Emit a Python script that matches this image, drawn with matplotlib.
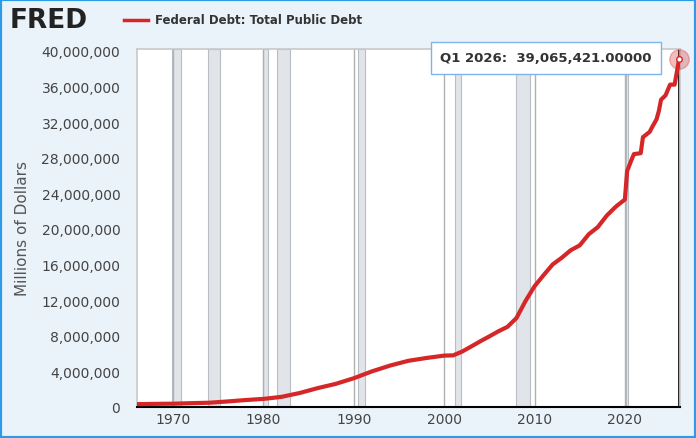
import matplotlib.pyplot as plt
import matplotlib.patches as mpatches

years = [1966, 1968, 1970, 1972, 1974, 1976, 1978, 1980, 1982, 1984, 1986, 1988,
         1990, 1992, 1994, 1996, 1998, 2000, 2001, 2002, 2003, 2004, 2005, 2006,
         2007, 2008, 2009, 2010, 2011, 2012, 2013, 2014, 2015, 2016, 2017, 2018,
         2019, 2020, 2020.25, 2020.75, 2021, 2021.75, 2022, 2022.75, 2023, 2023.5,
         2023.75, 2024, 2024.5, 2025, 2025.5, 2025.75, 2026]
debt = [320e3, 350e3, 370e3, 430e3, 480e3, 620e3, 780e3, 910e3, 1140e3, 1570e3, 2120e3, 2600e3,
        3230e3, 4000e3, 4650e3, 5180e3, 5500e3, 5770e3, 5800e3, 6230e3, 6800e3, 7380e3, 7930e3, 8500e3,
        9000e3, 9990e3, 11900e3, 13560e3, 14800e3, 16000e3, 16750e3, 17600e3, 18150e3, 19400e3, 20200e3, 21500e3,
        22500e3, 23300e3, 26500e3, 27800e3, 28400e3, 28500e3, 30300e3, 30900e3, 31400e3, 32300e3,
        33200e3, 34500e3, 35000e3, 36200e3, 36200e3, 37600e3, 39065421]
rec_start = [1969.9, 1973.9, 1980.0, 1981.5, 1990.5, 2001.2, 2007.9, 2020.1]
rec_end = [1970.9, 1975.2, 1980.5, 1982.9, 1991.2, 2001.9, 2009.5, 2020.3]

bg = '#eaf2fa'
fig = plt.figure(figsize=(6.96, 4.39), dpi=100, facecolor=bg)
fig.patches.append(mpatches.Rectangle((0, 0), 1, 1, transform=fig.transFigure,
                                      fill=False, edgecolor='#2c9be6', lw=3))
ax = fig.add_axes([137/696, 31/439, 543/696, 358/439])
for s, e in zip(rec_start, rec_end):
    ax.axvspan(s, e, color='#e1e5ea', ec='#b8bec4', lw=0.8)
for x in range(1970, 2030, 10):
    ax.axvline(x, color='#b0b0b0', lw=1, zorder=1)
ax.plot(years, debt, color='#d62728', lw=3, zorder=3)
ax.axvline(2026, color='black', lw=1.2, zorder=2)
ax.plot([2026], [39065421], 'o', ms=14, color='#d62728', alpha=0.3, zorder=4, clip_on=False)
ax.plot([2026], [39065421], 'o', ms=4, mfc='white', mec='#d62728', zorder=5, clip_on=False)

ax.set_xlim(1966, 2026.1)
ax.set_ylim(0, 40.2e6)
ax.set_xticks(range(1970, 2030, 10))
ax.set_yticks(range(0, 40000001, 4000000))
ax.set_yticklabels([f'{v:,}' for v in range(0, 40000001, 4000000)])
ax.tick_params(colors='#444444', labelsize=10, length=0)
ax.tick_params(axis='y', pad=12)
for sp in ['top', 'right', 'left']:
    ax.spines[sp].set_color('#c8c8c8')
    ax.spines[sp].set_linewidth(1.2)
ax.spines['bottom'].set_color('black')
ax.spines['bottom'].set_linewidth(1.5)
ax.set_ylabel('Millions of Dollars', color='#555555', fontsize=11, labelpad=8)

fig.text(10/696, 1 - 21/439, 'FRED', fontsize=19, fontweight='black', color='#222222', va='center')
fig.text(155/696, 1 - 21/439, 'Federal Debt: Total Public Debt', fontsize=8.5, fontweight='bold',
         color='#333333', va='center')
fig.lines.append(plt.Line2D([124/696, 148/696], [1 - 21/439] * 2, color='#d62728', lw=2.5,
                            transform=fig.transFigure))
ax.annotate('Q1 2026:  39,065,421.00000', xy=(2026, 39065421), xytext=(440/696, 1 - 59/439),
            textcoords='figure fraction', fontsize=9.5, fontweight='bold', color='#333333', va='center',
            bbox=dict(boxstyle='square,pad=0.7', fc='white', ec='#7cb5ec', lw=1))
fig.savefig('out.png', facecolor=bg)
